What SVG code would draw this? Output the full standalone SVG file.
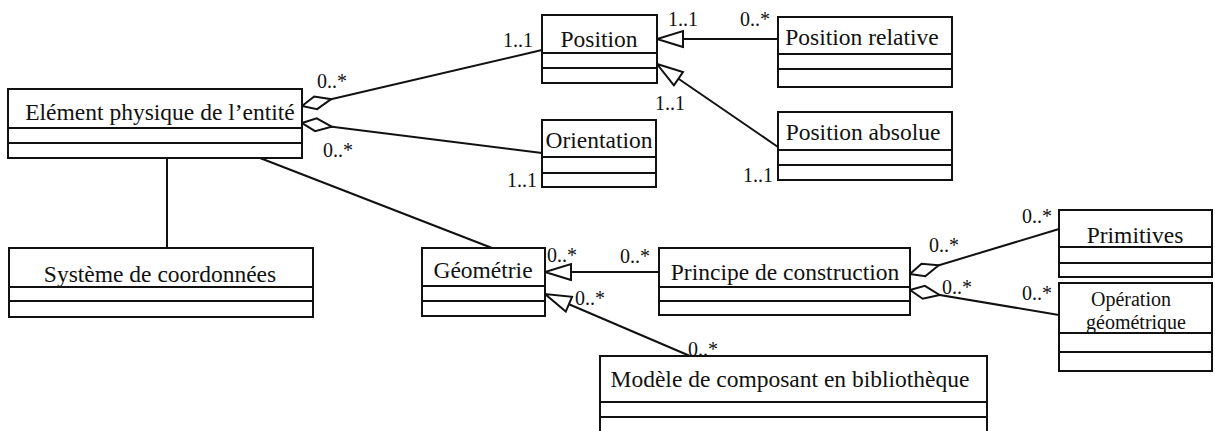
<svg xmlns="http://www.w3.org/2000/svg" width="1215" height="431" viewBox="0 0 1215 431">
<style>
.box rect{fill:#fff;stroke:#111;stroke-width:2}
.box line{stroke:#111;stroke-width:2}
.name{font-family:"Liberation Serif","Times New Roman",serif;font-size:23.5px;fill:#111;text-anchor:middle}
.small{font-size:20px}
.mult{font-family:"Liberation Serif","Times New Roman",serif;font-size:20px;fill:#111}
.conn line{stroke:#111;stroke-width:2;fill:none}
.agg{marker-start:url(#diamond)}
.gen{marker-end:url(#tri)}
</style>
<defs>
<marker id="diamond" markerUnits="userSpaceOnUse" markerWidth="40" markerHeight="20" refX="1" refY="8" orient="auto" overflow="visible">
<path d="M1,8 L15,1.5 L31,8 L15,14.5 Z" fill="#fff" stroke="#111" stroke-width="2"/>
</marker>
<marker id="tri" markerUnits="userSpaceOnUse" markerWidth="30" markerHeight="20" refX="27" refY="9" orient="auto" overflow="visible">
<path d="M1,1 L27,9 L1,17 Z" fill="#fff" stroke="#111" stroke-width="2"/>
</marker>
</defs>
<rect width="1215" height="431" fill="#fff"/>
<g id="connectors" class="conn">
<line class="agg" x1="302" y1="106" x2="542" y2="50"/>
<line class="agg" x1="302" y1="123" x2="542" y2="153"/>
<line x1="260" y1="158" x2="492" y2="248"/>
<line x1="167" y1="158" x2="167" y2="248"/>
<line class="gen" x1="778" y1="39" x2="657" y2="39"/>
<line class="gen" x1="778" y1="147" x2="657" y2="64"/>
<line class="gen" x1="659" y1="272" x2="545" y2="272"/>
<line class="gen" x1="690" y1="356" x2="545" y2="294"/>
<line class="agg" x1="910" y1="274" x2="1059" y2="229"/>
<line class="agg" x1="910" y1="290" x2="1059" y2="315"/>
</g>
<g id="element-physique" class="box">
<rect x="8" y="89" width="294" height="69"/>
<line x1="8" y1="128" x2="302" y2="128"/><line x1="8" y1="143" x2="302" y2="143"/>
<text class="name" x="160" y="120">Elément physique de l’entité</text>
</g>
<g id="position" class="box">
<rect x="542" y="15" width="115" height="68"/>
<line x1="542" y1="53" x2="657" y2="53"/><line x1="542" y1="68" x2="657" y2="68"/>
<text class="name" x="599" y="47">Position</text>
</g>
<g id="orientation" class="box">
<rect x="542" y="120" width="114" height="67"/>
<line x1="542" y1="157" x2="656" y2="157"/><line x1="542" y1="173" x2="656" y2="173"/>
<text class="name" x="599" y="148">Orientation</text>
</g>
<g id="position-relative" class="box">
<rect x="778" y="17" width="174" height="70"/>
<line x1="778" y1="54" x2="952" y2="54"/><line x1="778" y1="69" x2="952" y2="69"/>
<text class="name" x="862" y="45">Position relative</text>
</g>
<g id="position-absolue" class="box">
<rect x="778" y="112" width="174" height="68"/>
<line x1="778" y1="150" x2="952" y2="150"/><line x1="778" y1="165" x2="952" y2="165"/>
<text class="name" x="863" y="140">Position absolue</text>
</g>
<g id="systeme" class="box">
<rect x="9" y="248" width="304" height="69"/>
<line x1="9" y1="287" x2="313" y2="287"/><line x1="9" y1="301" x2="313" y2="301"/>
<text class="name" x="160" y="282">Système de coordonnées</text>
</g>
<g id="geometrie" class="box">
<rect x="422" y="248" width="123" height="68"/>
<line x1="422" y1="286" x2="545" y2="286"/><line x1="422" y1="301" x2="545" y2="301"/>
<text class="name" x="483" y="278">Géométrie</text>
</g>
<g id="principe" class="box">
<rect x="659" y="248" width="251" height="67"/>
<line x1="659" y1="287" x2="910" y2="287"/><line x1="659" y1="301" x2="910" y2="301"/>
<text class="name" x="785" y="280">Principe de construction</text>
</g>
<g id="modele" class="box">
<rect x="600" y="356" width="387" height="80"/>
<line x1="600" y1="402" x2="987" y2="402"/><line x1="600" y1="417" x2="987" y2="417"/>
<text class="name" x="790" y="387">Modèle de composant en bibliothèque</text>
</g>
<g id="primitives" class="box">
<rect x="1059" y="210" width="153" height="67"/>
<line x1="1059" y1="247" x2="1212" y2="247"/><line x1="1059" y1="263" x2="1212" y2="263"/>
<text class="name" x="1135" y="243">Primitives</text>
</g>
<g id="operation" class="box">
<rect x="1059" y="283" width="153" height="88"/>
<line x1="1059" y1="333" x2="1212" y2="333"/><line x1="1059" y1="352" x2="1212" y2="352"/>
<text class="name small" x="1131" y="306">Opération</text>
<text class="name small" x="1136" y="329">géométrique</text>
</g>
<g id="multiplicities" class="mult">
<text x="317" y="88">0..*</text>
<text x="323" y="157">0..*</text>
<text x="503" y="47">1..1</text>
<text x="507" y="187">1..1</text>
<text x="668" y="26">1..1</text>
<text x="740" y="26">0..*</text>
<text x="655" y="110">1..1</text>
<text x="743" y="182">1..1</text>
<text x="547" y="262">0..*</text>
<text x="620" y="263">0..*</text>
<text x="575" y="305">0..*</text>
<text x="688" y="356">0..*</text>
<text x="929" y="252">0..*</text>
<text x="1022" y="223">0..*</text>
<text x="942" y="294">0..*</text>
<text x="1022" y="300">0..*</text>
</g>
</svg>
